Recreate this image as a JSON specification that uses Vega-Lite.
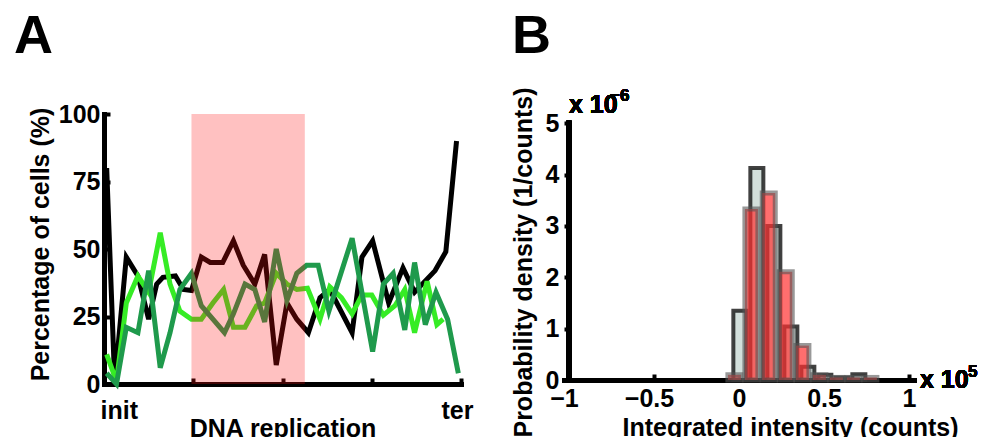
{
  "$schema": "https://vega.github.io/schema/vega-lite/v6.json",
  "padding": {"left": 14, "top": 9, "right": 0, "bottom": 0},
  "background": "white",
  "spacing": 38,
  "config": {
    "view": {"stroke": null},
    "font": "Liberation Sans",
    "axis": {
      "labelFont": "Liberation Sans", "labelFontWeight": "bold", "labelFontSize": 25, "labelColor": "#000",
      "titleFont": "Liberation Sans", "titleFontWeight": "bold", "titleFontSize": 25, "titleColor": "#000",
      "domainColor": "#000", "domainWidth": 5, "domainCap": "square",
      "tickColor": "#000", "tickWidth": 4, "tickSize": -6, "grid": false, "labelOverlap": false, "labelFlush": false
    },
    "title": {"font": "Liberation Sans", "fontWeight": "bold", "fontSize": 54, "color": "#000", "anchor": "start", "frame": "group"}
  },
  "datasets": {
    "lines": [
      {"series": "black", "pos": 0.03, "pct": 80},
      {"series": "black", "pos": 0.12, "pct": 0.5},
      {"series": "black", "pos": 0.25, "pct": 47},
      {"series": "black", "pos": 0.38, "pct": 40},
      {"series": "black", "pos": 0.50, "pct": 24},
      {"series": "black", "pos": 0.59, "pct": 37},
      {"series": "black", "pos": 0.66, "pct": 39.5},
      {"series": "black", "pos": 0.80, "pct": 40},
      {"series": "black", "pos": 0.89, "pct": 35},
      {"series": "black", "pos": 0.98, "pct": 34.6},
      {"series": "black", "pos": 1.09, "pct": 47},
      {"series": "black", "pos": 1.19, "pct": 45},
      {"series": "black", "pos": 1.33, "pct": 45},
      {"series": "black", "pos": 1.45, "pct": 53},
      {"series": "black", "pos": 1.56, "pct": 44},
      {"series": "black", "pos": 1.69, "pct": 37},
      {"series": "black", "pos": 1.80, "pct": 48},
      {"series": "black", "pos": 1.93, "pct": 7},
      {"series": "black", "pos": 2.05, "pct": 30},
      {"series": "black", "pos": 2.16, "pct": 24},
      {"series": "black", "pos": 2.29, "pct": 19},
      {"series": "black", "pos": 2.42, "pct": 32},
      {"series": "black", "pos": 2.53, "pct": 35},
      {"series": "black", "pos": 2.78, "pct": 19},
      {"series": "black", "pos": 2.89, "pct": 47},
      {"series": "black", "pos": 3.01, "pct": 53},
      {"series": "black", "pos": 3.19, "pct": 30},
      {"series": "black", "pos": 3.35, "pct": 43},
      {"series": "black", "pos": 3.48, "pct": 34},
      {"series": "black", "pos": 3.71, "pct": 42},
      {"series": "black", "pos": 3.83, "pct": 49},
      {"series": "black", "pos": 3.95, "pct": 90},
      {"series": "light", "pos": 0.03, "pct": 11},
      {"series": "light", "pos": 0.14, "pct": 1},
      {"series": "light", "pos": 0.25, "pct": 30},
      {"series": "light", "pos": 0.38, "pct": 40},
      {"series": "light", "pos": 0.50, "pct": 34},
      {"series": "light", "pos": 0.63, "pct": 56},
      {"series": "light", "pos": 0.74, "pct": 37},
      {"series": "light", "pos": 0.85, "pct": 27},
      {"series": "light", "pos": 0.98, "pct": 24},
      {"series": "light", "pos": 1.09, "pct": 24},
      {"series": "light", "pos": 1.22, "pct": 30},
      {"series": "light", "pos": 1.34, "pct": 35},
      {"series": "light", "pos": 1.45, "pct": 21},
      {"series": "light", "pos": 1.58, "pct": 21},
      {"series": "light", "pos": 1.71, "pct": 29},
      {"series": "light", "pos": 1.80, "pct": 30},
      {"series": "light", "pos": 1.93, "pct": 41},
      {"series": "light", "pos": 2.05, "pct": 37},
      {"series": "light", "pos": 2.16, "pct": 35},
      {"series": "light", "pos": 2.28, "pct": 35.5},
      {"series": "light", "pos": 2.42, "pct": 24},
      {"series": "light", "pos": 2.53, "pct": 36},
      {"series": "light", "pos": 2.66, "pct": 32},
      {"series": "light", "pos": 2.78, "pct": 26},
      {"series": "light", "pos": 2.89, "pct": 33},
      {"series": "light", "pos": 3.00, "pct": 33},
      {"series": "light", "pos": 3.13, "pct": 25.5},
      {"series": "light", "pos": 3.26, "pct": 29},
      {"series": "light", "pos": 3.37, "pct": 35},
      {"series": "light", "pos": 3.48, "pct": 19},
      {"series": "light", "pos": 3.62, "pct": 38},
      {"series": "light", "pos": 3.73, "pct": 22},
      {"series": "light", "pos": 3.80, "pct": 24},
      {"series": "dark", "pos": 0.03, "pct": 4},
      {"series": "dark", "pos": 0.14, "pct": 0},
      {"series": "dark", "pos": 0.25, "pct": 21},
      {"series": "dark", "pos": 0.38, "pct": 19},
      {"series": "dark", "pos": 0.50, "pct": 42},
      {"series": "dark", "pos": 0.63, "pct": 6},
      {"series": "dark", "pos": 0.74, "pct": 19},
      {"series": "dark", "pos": 0.85, "pct": 35},
      {"series": "dark", "pos": 0.98, "pct": 41},
      {"series": "dark", "pos": 1.09, "pct": 29},
      {"series": "dark", "pos": 1.22, "pct": 24},
      {"series": "dark", "pos": 1.35, "pct": 19},
      {"series": "dark", "pos": 1.45, "pct": 26},
      {"series": "dark", "pos": 1.58, "pct": 37},
      {"series": "dark", "pos": 1.69, "pct": 35},
      {"series": "dark", "pos": 1.80, "pct": 23},
      {"series": "dark", "pos": 1.93, "pct": 50},
      {"series": "dark", "pos": 2.05, "pct": 31},
      {"series": "dark", "pos": 2.16, "pct": 41},
      {"series": "dark", "pos": 2.27, "pct": 44},
      {"series": "dark", "pos": 2.40, "pct": 44},
      {"series": "dark", "pos": 2.52, "pct": 27},
      {"series": "dark", "pos": 2.78, "pct": 54},
      {"series": "dark", "pos": 3.01, "pct": 12},
      {"series": "dark", "pos": 3.13, "pct": 37},
      {"series": "dark", "pos": 3.24, "pct": 41},
      {"series": "dark", "pos": 3.37, "pct": 20},
      {"series": "dark", "pos": 3.48, "pct": 45},
      {"series": "dark", "pos": 3.60, "pct": 22},
      {"series": "dark", "pos": 3.72, "pct": 34},
      {"series": "dark", "pos": 3.85, "pct": 24},
      {"series": "dark", "pos": 3.97, "pct": 4}
    ],
    "region": [{"start": 0.98, "end": 2.25, "low": 0, "high": 100}],
    "hist": [
      {"series": "g", "center": 0.005, "density": 1.35},
      {"series": "g", "center": 0.105, "density": 4.13},
      {"series": "g", "center": 0.205, "density": 3.0},
      {"series": "g", "center": 0.305, "density": 1.04},
      {"series": "g", "center": 0.405, "density": 0.26},
      {"series": "g", "center": 0.505, "density": 0.1},
      {"series": "g", "center": 0.605, "density": 0.05},
      {"series": "g", "center": 0.705, "density": 0.11},
      {"series": "r", "center": -0.027, "density": 0.1},
      {"series": "r", "center": 0.073, "density": 3.33},
      {"series": "r", "center": 0.175, "density": 3.64},
      {"series": "r", "center": 0.275, "density": 2.11},
      {"series": "r", "center": 0.373, "density": 0.67},
      {"series": "r", "center": 0.473, "density": 0.1},
      {"series": "r", "center": 0.573, "density": 0.05},
      {"series": "r", "center": 0.673, "density": 0.05},
      {"series": "r", "center": 0.773, "density": 0.05}
    ]
  },
  "hconcat": [
    {
      "width": 357,
      "height": 270,
      "title": {"text": "A", "dx": -90, "offset": 38},
      "layer": [
        {
          "data": {"name": "lines"},
          "encoding": {
            "x": {
              "field": "pos", "type": "quantitative",
              "scale": {"domain": [0, 4], "nice": false, "zero": false},
              "axis": {
                "values": [0, 1, 2, 3, 4],
                "labelExpr": "datum.value == 0 ? 'init' : (datum.value == 4 ? 'ter' : '')",
                "labelAlign": {"condition": {"test": "datum.value == 0", "value": "left"}, "value": "center"},
                "labelOffset": -4,
                "labelPadding": 20,
                "title": "DNA replication",
                "titlePadding": -7
              }
            },
            "y": {
              "field": "pct", "type": "quantitative",
              "scale": {"domain": [0, 100], "nice": false},
              "axis": {"values": [0, 25, 50, 75, 100], "title": "Percentage of cells (%)", "titleY": 130, "labelPadding": 10, "titlePadding": 5}
            }
          },
          "layer": [
            {"transform": [{"filter": "datum.series == 'black'"}], "mark": {"type": "line", "color": "#000000", "strokeWidth": 5, "strokeJoin": "miter"}},
            {"transform": [{"filter": "datum.series == 'light'"}], "mark": {"type": "line", "color": "#36ec25", "strokeWidth": 5, "strokeJoin": "miter"}},
            {"transform": [{"filter": "datum.series == 'dark'"}], "mark": {"type": "line", "color": "#1f9a4c", "strokeWidth": 5, "strokeJoin": "miter"}}
          ]
        },
        {
          "data": {"name": "region"},
          "mark": {"type": "rect", "fill": "#ff1010", "fillOpacity": 0.26},
          "encoding": {
            "x": {"field": "start", "type": "quantitative"},
            "x2": {"field": "end"},
            "y": {"field": "low", "type": "quantitative"},
            "y2": {"field": "high"}
          }
        }
      ]
    },
    {
      "width": 350,
      "height": 266,
      "title": {"text": "B", "dx": -52, "offset": 23},
      "data": {"name": "hist"},
      "encoding": {
        "x": {
          "field": "center", "type": "quantitative",
          "scale": {"domain": [-1, 1], "nice": false, "zero": false},
          "axis": {
            "values": [-1, -0.5, 0, 0.5, 1], "format": "~g",
            "labelOffset": {"condition": {"test": "datum.value < 0", "value": -5}, "value": 0},
            "labelPadding": 12,
            "title": "Integrated intensity (counts)", "titleX": 226, "titleAlign": "center", "titlePadding": 4
          }
        },
        "y": {
          "field": "density", "type": "quantitative",
          "scale": {"domain": [0, 5.181], "nice": false},
          "axis": {"values": [0, 1, 2, 3, 4, 5], "domain": false, "title": "Probability density (1/counts)", "titleY": 148, "labelPadding": 11, "titlePadding": 9}
        }
      },
      "layer": [
        {"transform": [{"filter": "datum.series == 'g'"}], "mark": {"type": "bar", "orient": "vertical", "width": 13, "fill": "#cddbd7", "fillOpacity": 0.9, "stroke": "#111111", "strokeOpacity": 0.8, "strokeWidth": 4}},
        {"transform": [{"filter": "datum.series == 'r'"}], "mark": {"type": "bar", "orient": "vertical", "width": 13, "fill": "#ff3030", "fillOpacity": 0.7, "stroke": "#555555", "strokeOpacity": 0.6, "strokeWidth": 5}},
        {"mark": {"type": "rule", "color": "#000", "strokeWidth": 5, "strokeCap": "square"},
         "encoding": {"x": {"datum": -1, "type": "quantitative"}, "y": {"datum": 0, "type": "quantitative"}, "y2": {"datum": 5}}},
        {"mark": {"type": "text", "text": "x 10", "align": "left", "baseline": "alphabetic", "dy": -10, "fontSize": 25, "fontWeight": "bold", "color": "#000"},
         "encoding": {"x": {"datum": -1, "type": "quantitative"}, "y": {"datum": 5, "type": "quantitative"}}},
        {"mark": {"type": "text", "text": "−6", "align": "left", "baseline": "alphabetic", "dx": 41, "dy": -22, "fontSize": 17, "fontWeight": "bold", "color": "#000"},
         "encoding": {"x": {"datum": -1, "type": "quantitative"}, "y": {"datum": 5, "type": "quantitative"}}},
        {"mark": {"type": "text", "text": "x 10", "align": "left", "baseline": "alphabetic", "dx": 11, "dy": 8, "fontSize": 25, "fontWeight": "bold", "color": "#000"},
         "encoding": {"x": {"datum": 1, "type": "quantitative"}, "y": {"datum": 0, "type": "quantitative"}}},
        {"mark": {"type": "text", "text": "5", "align": "left", "baseline": "alphabetic", "dx": 59, "dy": -3, "fontSize": 17, "fontWeight": "bold", "color": "#000"},
         "encoding": {"x": {"datum": 1, "type": "quantitative"}, "y": {"datum": 0, "type": "quantitative"}}}
      ]
    }
  ]
}
